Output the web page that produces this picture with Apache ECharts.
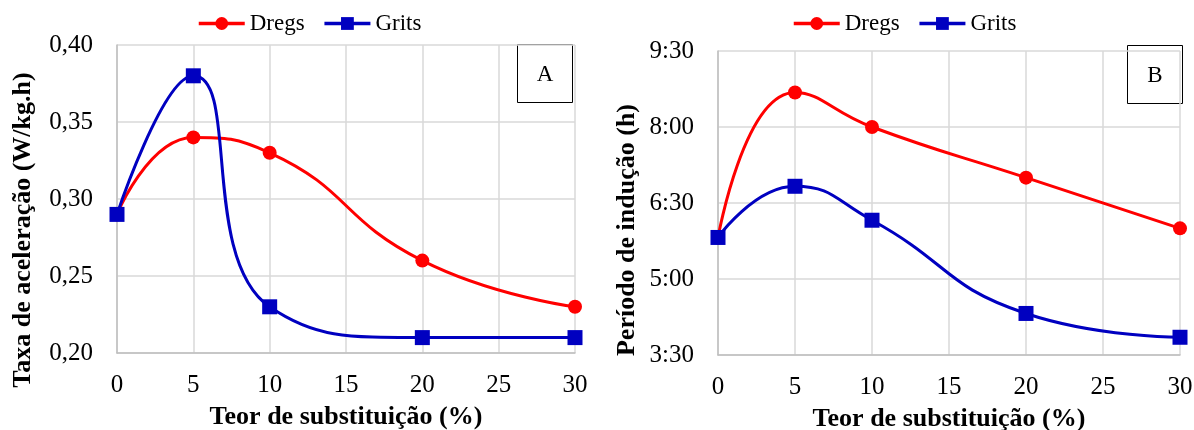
<!DOCTYPE html>
<html>
<head>
<meta charset="utf-8">
<script src="https://cdn.jsdelivr.net/npm/echarts@6/dist/echarts.min.js"></script>
<style>
html,body{margin:0;padding:0;background:#fff;}
#c{width:1194px;height:430px;}
</style>
</head>
<body>
<div id="c"></div>
<script>
// ---- data ----
var substitution = [0, 5, 10, 20, 30];
var seriesNames = ['Dregs', 'Grits'];
var rateDregs = [0.29, 0.34, 0.33, 0.26, 0.23];
var rateGrits = [0.29, 0.38, 0.23, 0.21, 0.21];
// induction period in hours (decimal)
var periodDregs = [5.82, 8.68, 8.0, 7.0, 6.0];
var periodGrits = [5.82, 6.83, 6.16, 4.32, 3.85];
var panelLabels = ['A', 'B'];

function pairs(xs, ys) { return xs.map(function (x, i) { return [x, ys[i]]; }); }
function comma(v) { return v.toFixed(2).replace('.', ','); }
function hm(v) {
  var h = Math.floor(v + 1e-9);
  var m = Math.round((v - h) * 60);
  if (m === 60) { h += 1; m = 0; }
  return h + ':' + (m < 10 ? '0' : '') + m;
}

var FONT = 'Liberation Serif';
var RED = '#ff0000', BLUE = '#0000c0';
var gridLine = { show: true, lineStyle: { color: '#d9d9d9', width: 1.5 } };
var axisLine = { show: true, lineStyle: { color: '#bfbfbf', width: 1.5 } };
var labelStyle = { color: '#000', fontFamily: FONT, fontSize: 25 };
function nameStyle(pad) {
  return { color: '#000', fontFamily: FONT, fontSize: 26, fontWeight: 'bold', padding: pad };
}

function xAxis(idx) {
  return {
    type: 'value', gridIndex: idx, min: 0, max: 30, interval: 5,
    axisLine: axisLine, axisTick: { show: false }, splitLine: gridLine,
    axisLabel: Object.assign({ margin: 20 }, labelStyle),
    name: 'Teor de substituição (%)', nameLocation: 'middle', nameGap: 51,
    nameTextStyle: nameStyle(0)
  };
}

function lineSeries(name, data, color, symbol, size, idx) {
  return {
    name: name, type: 'line', xAxisIndex: idx, yAxisIndex: idx,
    data: data, smooth: 0.5, symbol: symbol, symbolSize: size,
    lineStyle: { color: color, width: 3 },
    itemStyle: { color: color },
    emphasis: { disabled: true }, z: symbol === 'rect' ? 3 : 2
  };
}

function legend(left) {
  return {
    data: seriesNames, left: left, top: 7, itemWidth: 46, itemHeight: 16, itemGap: 18,
    lineStyle: { width: 3.5 },
    textStyle: { color: '#000', fontFamily: FONT, fontSize: 23 }
  };
}

function labelBox(x, y, text) {
  return {
    type: 'group', left: x, top: y,
    children: [
      { type: 'rect', shape: { x: 0, y: 0, width: 55, height: 58 },
        style: { fill: '#fff', stroke: '#000', lineWidth: 1 } },
      { type: 'text', x: 27.5, y: 30,
        style: { text: text, fill: '#000', font: '23px "' + FONT + '"', align: 'center', verticalAlign: 'middle' } }
    ]
  };
}

var chart = echarts.init(document.getElementById('c'), null, { renderer: 'canvas' });
chart.setOption({
  animation: false,
  backgroundColor: '#fff',
  legend: [legend(192), legend(787)],
  grid: [
    { left: 117, right: 619, top: 45, bottom: 77, containLabel: false, outerBoundsMode: 'none' },
    { left: 718, right: 14, top: 51, bottom: 75, containLabel: false, outerBoundsMode: 'none' }
  ],
  xAxis: [xAxis(0), xAxis(1)],
  yAxis: [
    {
      type: 'value', gridIndex: 0, min: 0.2, max: 0.4, interval: 0.05,
      axisLine: axisLine, axisTick: { show: false }, splitLine: gridLine,
      axisLabel: Object.assign({ margin: 24, formatter: comma }, labelStyle),
      name: 'Taxa de aceleração (W/kg.h)', nameLocation: 'middle', nameGap: 81,
      nameTextStyle: nameStyle([0, 62, 0, 0])
    },
    {
      type: 'value', gridIndex: 1, min: 3.5, max: 9.5, interval: 1.5,
      axisLine: axisLine, axisTick: { show: false }, splitLine: gridLine,
      axisLabel: Object.assign({ margin: 24, formatter: hm }, labelStyle),
      name: 'Período de indução (h)', nameLocation: 'middle', nameGap: 78,
      nameTextStyle: nameStyle([0, 54, 0, 0])
    }
  ],
  graphic: [labelBox(517, 44, panelLabels[0]), labelBox(1127, 45, panelLabels[1])],
  series: [
    lineSeries(seriesNames[0], pairs(substitution, rateDregs), RED, 'circle', 14, 0),
    lineSeries(seriesNames[1], pairs(substitution, rateGrits), BLUE, 'rect', 15, 0),
    lineSeries(seriesNames[0], pairs(substitution, periodDregs), RED, 'circle', 14, 1),
    lineSeries(seriesNames[1], pairs(substitution, periodGrits), BLUE, 'rect', 15, 1)
  ]
});
</script>
</body>
</html>
